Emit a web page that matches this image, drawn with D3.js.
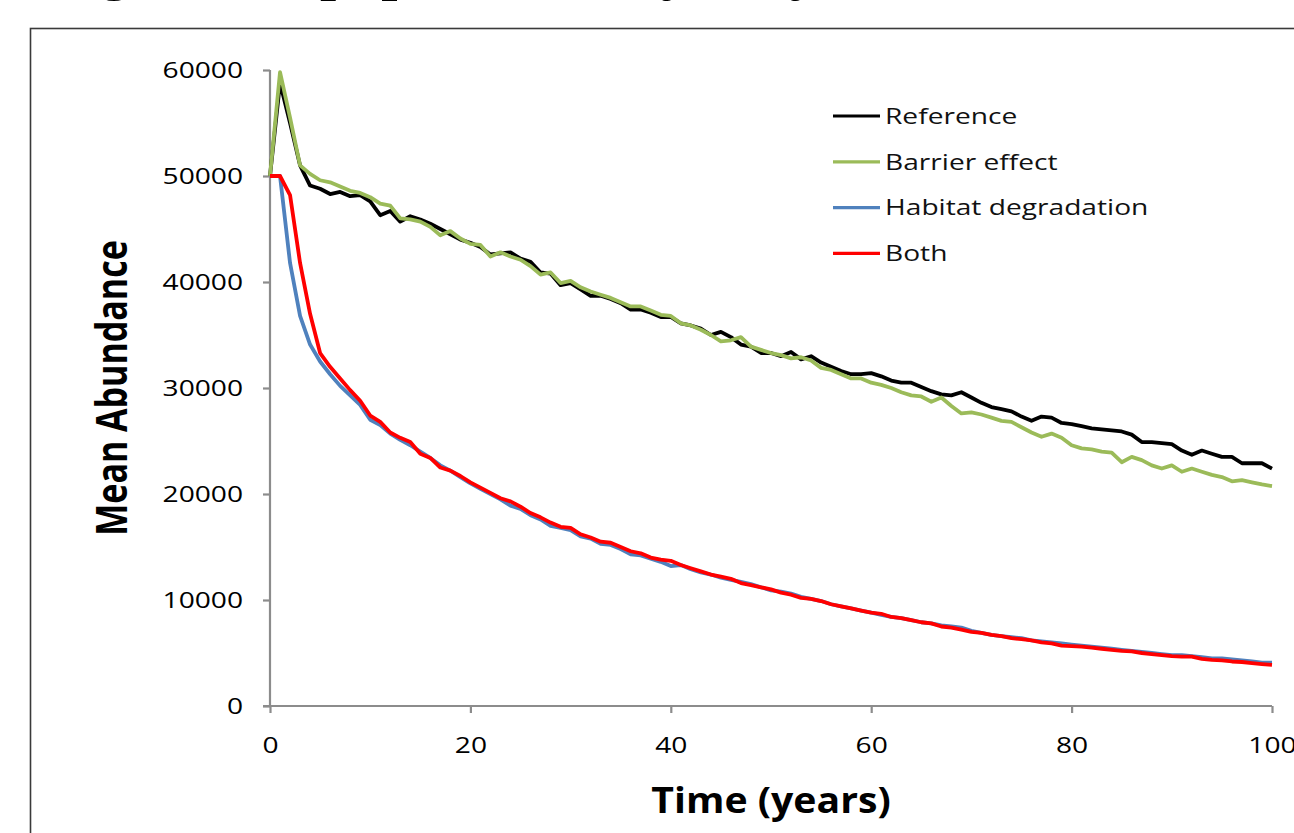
<!DOCTYPE html>
<html>
<head>
<meta charset="utf-8">
<script src="https://cdn.jsdelivr.net/npm/d3@7"></script>
<style>
	body { margin: 0; background: #fff; }
	svg { display: block; }
</style>
</head>
<body>
<div id="chart"></div>
<script>
// time axis, one value per year
const years = d3.range(0, 101);
const xTicks = [0, 20, 40, 60, 80, 100];
const yTicks = [0, 10000, 20000, 30000, 40000, 50000, 60000];

const seriesNames = ['Reference', 'Barrier effect', 'Habitat degradation', 'Both'];

const reference = [50000,58800,55000,51000,49100,48800,48300,48500,48100,48200,
	47600,46300,46700,45700,46200,45900,45500,45000,44500,44000,
	43700,43300,42600,42700,42800,42200,41900,40900,40800,39700,
	39900,39300,38700,38700,38400,38000,37400,37400,37100,36700,
	36700,36100,35900,35600,35000,35300,34800,34100,33900,33300,
	33300,33000,33400,32700,33000,32400,32000,31600,31300,31300,
	31400,31100,30700,30500,30500,30100,29700,29400,29300,29600,
	29100,28600,28200,28000,27800,27300,26900,27300,27200,26700,
	26600,26400,26200,26100,26000,25900,25600,24900,24900,24800,
	24700,24100,23700,24100,23800,23500,23500,22900,22900,22900,22400];

const barrier = [50000,59800,55500,51000,50200,49600,49400,49000,48600,48400,
	48000,47400,47200,46000,45900,45700,45200,44400,44800,44100,
	43600,43500,42400,42800,42400,42100,41500,40700,40900,39900,
	40100,39500,39100,38800,38500,38100,37700,37700,37300,36900,
	36800,36100,35900,35500,35000,34400,34500,34800,33900,33600,
	33300,33100,32800,32900,32600,31900,31700,31300,30900,30900,
	30500,30300,30000,29600,29300,29200,28700,29100,28300,27600,
	27700,27500,27200,26900,26800,26300,25800,25400,25700,25300,
	24600,24300,24200,24000,23900,23000,23500,23200,22700,22400,
	22700,22100,22400,22100,21800,21600,21200,21300,21100,20900,20750];

const habitat = [50000,50000,41800,36800,34100,32500,31300,30200,29300,28400,
	27000,26500,25700,25100,24600,24000,23400,22700,22200,21600,
	21000,20500,20000,19500,18900,18600,18000,17600,17000,16800,
	16600,16000,15800,15300,15200,14800,14300,14200,13900,13600,
	13200,13300,12900,12600,12400,12100,11900,11700,11500,11200,
	10900,10800,10600,10300,10100,9900,9600,9400,9200,9000,
	8800,8600,8400,8300,8100,7900,7800,7600,7500,7400,
	7100,6900,6700,6600,6500,6400,6200,6100,6000,5900,
	5800,5700,5600,5500,5400,5300,5200,5100,5000,4900,
	4800,4800,4700,4600,4500,4500,4400,4300,4200,4100,4100];

const both = [50000,50000,48200,41800,37000,33300,32000,30900,29800,28800,
	27400,26800,25800,25300,24900,23800,23400,22500,22200,21700,
	21100,20600,20100,19600,19300,18800,18200,17800,17300,16900,
	16800,16200,15900,15500,15400,15000,14600,14400,14000,13800,
	13700,13300,13000,12700,12400,12200,12000,11600,11400,11200,
	11000,10700,10500,10200,10100,9900,9600,9400,9200,9000,
	8800,8700,8400,8300,8100,7900,7800,7500,7400,7200,
	7000,6900,6700,6600,6400,6300,6200,6000,5900,5700,
	5650,5600,5500,5400,5300,5200,5150,5000,4900,4800,
	4700,4650,4650,4450,4350,4300,4200,4150,4050,3950,3870];

const seriesValues = [reference, barrier, habitat, both];
const seriesColors = ['#000000', '#9bbb59', '#4f81bd', '#ff0000'];

const W = 1294, H = 833;
const m = {left: 270, top: 70, right: 22, bottom: 127};
const sx = 1.28; // the source picture is stretched sideways

const svg = d3.select('#chart').append('svg')
	.attr('width', W)
	.attr('height', H);

svg.append('rect').attr('width', W).attr('height', H).attr('fill', '#fff');

// title, mostly cut off above the page
const title = svg.append('text')
	.attr('y', -11)
	.style('font-family', '"Liberation Serif", serif')
	.style('font-weight', 'bold')
	.style('font-size', '58px')
	.attr('fill', '#000');
title.append('tspan').attr('x', -106).text('Declining');
title.append('tspan').attr('x', 320).text('population');
title.append('tspan').attr('x', 629).text('by');
title.append('tspan').attr('x', 790).text('year');

// frame round the chart
svg.append('rect')
	.attr('x', 30.5).attr('y', 28.5)
	.attr('width', W).attr('height', H)
	.attr('fill', 'none')
	.attr('stroke', '#3a3a3a')
	.attr('stroke-width', 1.6);

const plotW = W - m.left - m.right;
const plotH = H - m.top - m.bottom;

const x = d3.scaleLinear().domain([0, 100]).range([0, plotW]);
const y = d3.scaleLinear().domain([0, 60000]).range([plotH, 0]);

const plot = svg.append('g')
	.attr('transform', 'translate(' + m.left + ',' + m.top + ')');

//axes
const axisColor = '#8c8c8c';

const yAxis = plot.append('g')
	.attr('class', 'y axis')
	.call(d3.axisLeft(y).tickValues(yTicks).tickSize(7).tickPadding(20).tickFormat(d3.format('d')));

const xAxis = plot.append('g')
	.attr('class', 'x axis')
	.attr('transform', 'translate(0,' + plotH + ')')
	.call(d3.axisBottom(x).tickValues(xTicks).tickSize(7).tickPadding(24).tickFormat(d3.format('d')));

plot.selectAll('.axis line')
	.attr('stroke', axisColor)
	.attr('stroke-width', 2.2);

plot.selectAll('.axis .domain').remove();

// plain axis lines
plot.append('line')
	.attr('x1', 0).attr('x2', 0)
	.attr('y1', 0).attr('y2', plotH)
	.attr('stroke', axisColor).attr('stroke-width', 2.2);
plot.append('line')
	.attr('x1', -7).attr('x2', plotW)
	.attr('y1', plotH).attr('y2', plotH)
	.attr('stroke', axisColor).attr('stroke-width', 2.2);

plot.selectAll('.axis text')
	.style('font-family', '"Open Sans", sans-serif')
	.style('font-size', '22px')
	.attr('fill', '#000');

// stretch tick labels sideways around their anchor
yAxis.selectAll('.tick text')
	.attr('transform', function() {
		const tx = +d3.select(this).attr('x');
		return 'translate(' + tx + ',0) scale(' + sx + ',1) translate(' + (-tx) + ',0)';
	});
xAxis.selectAll('.tick text')
	.attr('transform', 'scale(' + sx + ',1)');

// axis titles
svg.append('text')
	.attr('transform', 'translate(112,388) scale(' + sx + ',1) rotate(-90)')
	.attr('text-anchor', 'middle')
	.attr('dy', '0.35em')
	.style('font-family', '"Open Sans", sans-serif')
	.style('font-weight', 'bold')
	.style('font-size', '34px')
	.text('Mean Abundance');

svg.append('text')
	.attr('transform', 'translate(' + (m.left + plotW / 2) + ',813) scale(1.12,1)')
	.attr('text-anchor', 'middle')
	.style('font-family', '"Open Sans", sans-serif')
	.style('font-weight', 'bold')
	.style('font-size', '35px')
	.text('Time (years)');

// series lines
const valueLine = d3.line()
	.x((d, i) => x(years[i]))
	.y(d => y(d));

plot.selectAll('.series')
	.data(seriesValues)
	.enter().append('path')
	.attr('class', 'series')
	.attr('fill', 'none')
	.attr('stroke', (d, i) => seriesColors[i])
	.attr('stroke-width', 3.8)
	.attr('stroke-linejoin', 'round')
	.attr('d', valueLine);

// legend
const legend = svg.append('g')
	.attr('transform', 'translate(833,116)');

const rows = legend.selectAll('.legend-row')
	.data(seriesNames)
	.enter().append('g')
	.attr('class', 'legend-row')
	.attr('transform', (d, i) => 'translate(0,' + (i * 45.8) + ')');

rows.append('line')
	.attr('x1', 0).attr('x2', 47)
	.attr('stroke', (d, i) => seriesColors[i])
	.attr('stroke-width', 3.2);

rows.append('text')
	.attr('transform', 'translate(52,0) scale(' + sx + ',1)')
	.attr('dy', '0.35em')
	.style('font-family', '"Open Sans", sans-serif')
	.style('font-size', '22px')
	.attr('fill', '#111')
	.text(d => d);
</script>
</body>
</html>
